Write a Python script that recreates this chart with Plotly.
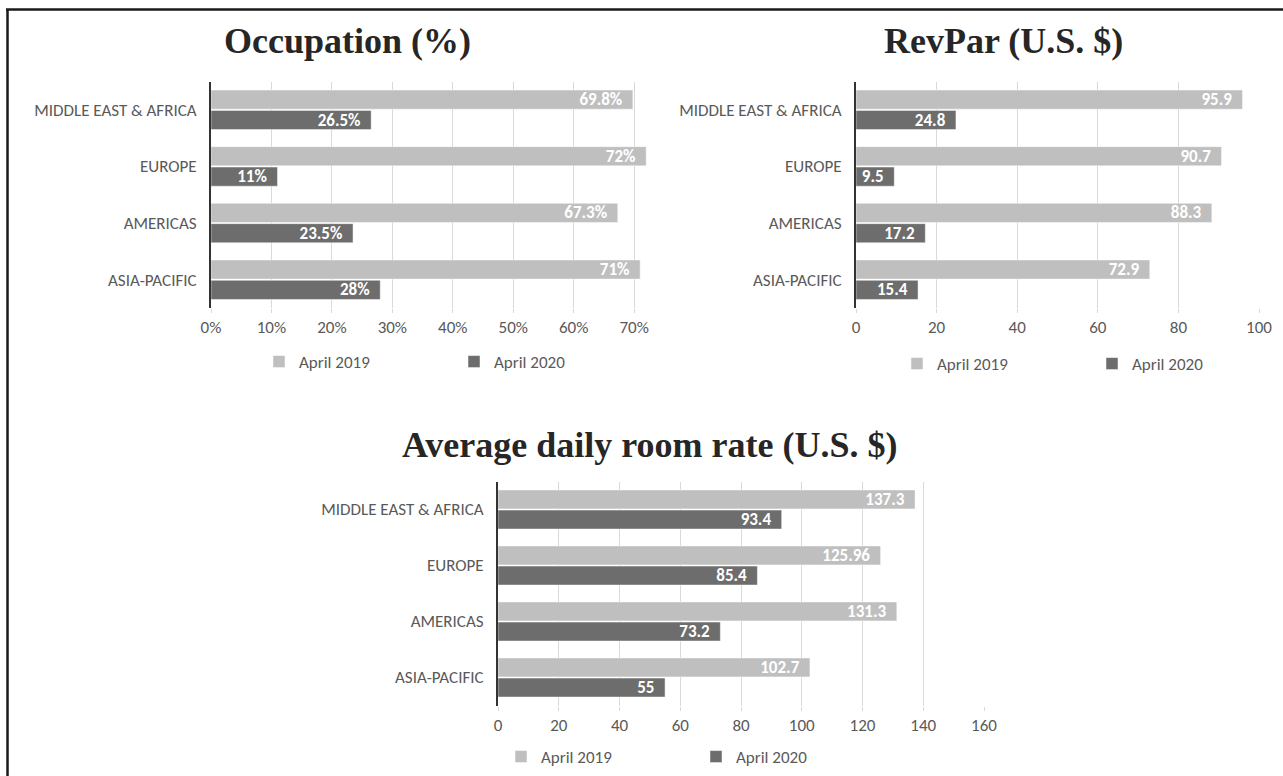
import plotly.graph_objects as go

# ---------------- data ----------------
categories = ["MIDDLE EAST & AFRICA", "EUROPE", "AMERICAS", "ASIA-PACIFIC"]
series_names = ["April 2019", "April 2020"]

occupation_2019 = [69.8, 72, 67.3, 71]
occupation_2020 = [26.5, 11, 23.5, 28]

revpar_2019 = [95.9, 90.7, 88.3, 72.9]
revpar_2020 = [24.8, 9.5, 17.2, 15.4]

adr_2019 = [137.3, 125.96, 131.3, 102.7]
adr_2020 = [93.4, 85.4, 73.2, 55]

occupation_ticks = [0, 10, 20, 30, 40, 50, 60, 70]
revpar_ticks = [0, 20, 40, 60, 80, 100]
adr_ticks = [0, 20, 40, 60, 80, 100, 120, 140, 160]

titles = ["Occupation (%)", "RevPar (U.S. $)", "Average daily room rate (U.S. $)"]

# ---------------- style ----------------
W, H = 1283, 776
LIGHT = "#bfbfbf"
DARK = "#6d6d6d"
GRID = "#d9d9d9"
TEXT = "#595959"
SANS = "Carlito, Liberation Sans Narrow, Liberation Sans, Arial, sans-serif"
SERIF = "Liberation Serif, Times New Roman, serif"
PAD = "\u00a0\u00a0"


def fx(px):
    return px / W


def fy(px):
    return 1 - px / H


panels = [
    dict(v19=occupation_2019, v20=occupation_2020, ticks=occupation_ticks, suffix="%",
         rng=[0, 72.3], xdom=[fx(211), fx(648)], ydom=[fy(308), fy(81.5)],
         title_xy=(347, 41), legend_xy=(259, 362)),
    dict(v19=revpar_2019, v20=revpar_2020, ticks=revpar_ticks, suffix="",
         rng=[0, 100], xdom=[fx(856), fx(1259)], ydom=[fy(308), fy(81.5)],
         title_xy=(1003, 41), legend_xy=(897, 364)),
    dict(v19=adr_2019, v20=adr_2020, ticks=adr_ticks, suffix="",
         rng=[0, 160], xdom=[fx(498), fx(984)], ydom=[fy(705.5), fy(481.5)],
         title_xy=(650, 445), legend_xy=(501, 757)),
]

fig = go.Figure()
annotations = []
layout_axes = {}

for i, p in enumerate(panels):
    n = "" if i == 0 else str(i + 1)
    xa, ya = "x" + n, "y" + n
    lg = "legend" + n
    for name, vals, col in ((series_names[0], p["v19"], LIGHT), (series_names[1], p["v20"], DARK)):
        fig.add_trace(go.Bar(
            y=categories, x=vals, orientation="h", name=name,
            marker=dict(color=col, line=dict(color="rgba(255,255,255,0.6)", width=0.8)),
            text=[f"<b>{v:g}{p['suffix']}</b>{PAD}" for v in vals],
            textposition="inside", insidetextanchor="end", textangle=0,
            textfont=dict(color="white", size=17, family=SANS),
            xaxis=xa, yaxis=ya, legend=lg, hoverinfo="skip",
        ))
    layout_axes["xaxis" + n] = dict(
        domain=p["xdom"], anchor=ya, range=p["rng"],
        tickmode="array", tickvals=p["ticks"],
        ticktext=[f"{t}{p['suffix']}" for t in p["ticks"]],
        showgrid=True, gridcolor=GRID, gridwidth=1,
        zeroline=False, showline=False,
        ticks="outside", ticklen=4, tickcolor=GRID,
        tickfont=dict(family=SANS, size=17, color=TEXT),
        ticklabelstandoff=0, fixedrange=True,
    )
    layout_axes["yaxis" + n] = dict(
        domain=p["ydom"], anchor=xa, autorange="reversed",
        showline=True, linecolor="#333333", linewidth=2,
        showgrid=False, ticks="", zeroline=False,
        tickfont=dict(family=SANS, size=17, color=TEXT),
        ticklabelstandoff=9, fixedrange=True,
    )
    layout_axes[lg] = dict(
        orientation="h", x=fx(p["legend_xy"][0]), y=fy(p["legend_xy"][1]),
        xanchor="left", yanchor="middle",
        entrywidth=150, entrywidthmode="pixels",
        font=dict(family=SANS, size=17, color=TEXT),
        bgcolor="rgba(0,0,0,0)", traceorder="normal",
        itemclick=False, itemdoubleclick=False,
    )
    annotations.append(dict(
        text=f"<b>{titles[i]}</b>", x=fx(p["title_xy"][0]), y=fy(p["title_xy"][1]),
        xref="paper", yref="paper", xanchor="center", yanchor="middle",
        showarrow=False, font=dict(family=SERIF, size=36, color="#262626"),
    ))

shapes = [
    dict(type="line", xref="paper", yref="paper", x0=fx(6), x1=1, y0=fy(9.5), y1=fy(9.5),
         line=dict(color="#1a1a1a", width=2.5)),
    dict(type="line", xref="paper", yref="paper", x0=fx(7.5), x1=fx(7.5), y0=fy(9.5), y1=0,
         line=dict(color="#1a1a1a", width=2.5)),
]

fig.update_layout(
    autosize=True, margin=dict(l=0, r=0, t=0, b=0, autoexpand=False),
    paper_bgcolor="white", plot_bgcolor="white",
    barmode="group", bargap=0.28, bargroupgap=0.06,
    uniformtext=dict(minsize=17, mode="show"),
    annotations=annotations, shapes=shapes,
    **layout_axes,
)

fig.write_html(
    "out.html",
    default_width="100vw", default_height="100vh",
    config=dict(displayModeBar=False, responsive=True),
    post_script="document.body.style.margin='0';document.body.style.overflow='hidden';",
)
